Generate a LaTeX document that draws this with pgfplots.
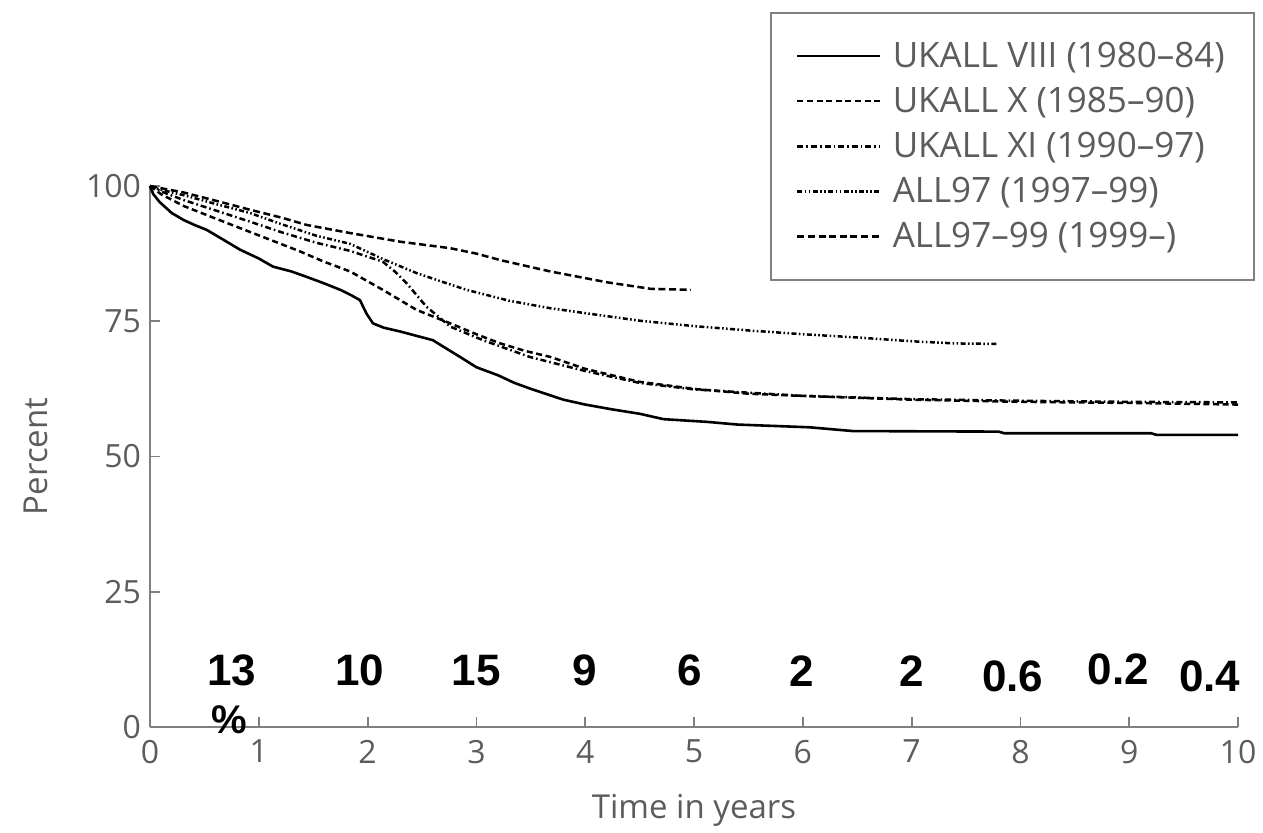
\documentclass[border=0pt]{standalone}
\usepackage{pgfplots}
\pgfplotsset{compat=1.18}
\usepackage{fontspec}
\setmainfont{Open Sans}
\newfontfamily\numfont{Liberation Sans}
\definecolor{txt}{gray}{0.36}
\definecolor{axc}{gray}{0.5}
\begin{document}
\begin{tikzpicture}
\path (-75pt,-53pt) rectangle (556.5pt,363.5pt);
\begin{axis}[
  at={(0pt,0pt)}, anchor=south west,
  scale only axis, width=544pt, height=270.5pt,
  xmin=0, xmax=10, ymin=0, ymax=100,
  axis x line=bottom, axis y line=left,
  axis line style={-, axc, line width=1.1pt},
  xtick={0,1,...,10}, ytick={0,25,50,75,100},
  tick align=inside, major tick length=5pt,
  tick style={axc, line width=0.9pt},
  /pgf/number format/assume math mode=true,
  ticklabel style={font=\fontsize{16}{18}\selectfont, text=txt},
  xticklabel style={yshift=-3pt},
  yticklabel style={xshift=-1pt},
  xlabel={Time in years}, ylabel={Percent},
  xlabel style={font=\fontsize{16.5}{18}\selectfont, text=txt, at={(axis description cs:0.5,0)}, anchor=north, yshift=-30pt},
  ylabel style={font=\fontsize{16.5}{18}\selectfont, text=txt, at={(axis description cs:-0.1048,0.5)}, anchor=center},
  clip=false,
  legend style={at={(axis cs:5.7,132.2)}, anchor=north west, draw=axc, line width=1pt,
    font=\fontsize{17.5}{19}\selectfont, text=txt, inner xsep=12.5pt, inner ysep=12.5pt,
    row sep=4.4pt, legend cell align=left},
  legend image code/.code={\draw[#1] (0pt,0pt) -- (41.5pt,0pt); \path (45pt,0pt);},
]
\addplot[black, line width=1.3pt] coordinates {
(0,100)(0.03,98.5)(0.09,97)(0.2,95)(0.31,93.7)(0.42,92.7)(0.52,91.9)(0.68,90)(0.83,88.2)(1.0,86.6)(1.13,85.1)(1.3,84.2)(1.44,83.2)(1.6,82)(1.75,80.8)(1.85,79.8)(1.93,78.9)(1.99,76.4)(2.05,74.6)(2.15,73.8)(2.3,73.1)(2.45,72.3)(2.6,71.5)(2.72,70)(2.85,68.4)(3.0,66.5)(3.2,65)(3.35,63.6)(3.5,62.5)(3.65,61.5)(3.8,60.5)(4.0,59.6)(4.25,58.7)(4.5,57.9)(4.72,56.9)(5.12,56.4)(5.4,55.9)(6.06,55.4)(6.46,54.7)(7.8,54.6)(7.85,54.3)(9.2,54.3)(9.25,54.0)(10,54.0)};
\addlegendentry{UKALL VIII (1980–84)}
\addplot[black, line width=1.25pt, dash pattern=on 3pt off 1.8pt] coordinates {
(0,100)(0.1,98.5)(0.31,96.3)(0.6,94)(0.92,91.5)(1.15,89.7)(1.38,87.9)(1.6,86)(1.84,84.2)(2.14,80.8)(2.45,77.1)(2.76,74.6)(3.0,72.6)(3.22,70.9)(3.45,69.5)(3.68,68.4)(4.0,66.2)(4.5,63.8)(5.0,62.5)(5.5,61.6)(6.0,61.2)(7.0,60.5)(8.0,60.1)(9.0,59.9)(10,59.6)};
\addlegendentry{UKALL X (1985–90)}
\addplot[black, line width=1.25pt, dash pattern=on 3pt off 1.5pt on 0.8pt off 1.5pt] coordinates {
(0,100)(0.1,99)(0.31,97.4)(0.6,95.5)(0.92,93.4)(1.2,91.5)(1.53,89.5)(1.84,88)(2.14,86)(2.25,84.2)(2.36,82)(2.54,77.7)(2.76,74)(3.06,71.5)(3.49,68.4)(4.0,65.8)(4.5,63.6)(5.0,62.4)(6.0,61.2)(7.0,60.6)(8.0,60.3)(9.0,60.1)(10,60.0)};
\addlegendentry{UKALL XI (1990–97)}
\addplot[black, line width=1.25pt, dash pattern=on 2.5pt off 1.2pt on 0.8pt off 1.2pt on 0.8pt off 1.2pt] coordinates {
(0,100)(0.1,99.3)(0.31,98.3)(0.6,96.7)(0.92,95)(1.2,93)(1.53,90.8)(1.84,89.3)(2.14,86.5)(2.45,83.9)(2.7,82.2)(2.91,80.8)(3.3,78.8)(3.68,77.4)(4.0,76.5)(4.5,75.1)(5.0,74.1)(5.5,73.3)(6.0,72.6)(6.5,72)(7.0,71.3)(7.4,70.9)(7.8,70.8)};
\addlegendentry{ALL97 (1997–99)}
\addplot[black, line width=1.25pt, dash pattern=on 3.5pt off 1.8pt] coordinates {
(0,100)(0.1,99.6)(0.31,98.8)(0.6,97.3)(0.92,95.6)(1.2,94.2)(1.44,92.8)(1.84,91.3)(2.3,89.7)(2.76,88.5)(3.0,87.5)(3.22,86.3)(3.68,84.2)(4.2,82.2)(4.6,81)(4.97,80.8)};
\addlegendentry{ALL97–99 (1999–)}
\begin{scope}[every node/.style={font=\numfont\bfseries\fontsize{22}{24}\selectfont, text=black}]
\node at (axis cs:0.75,10.4) {13};
\node at (axis cs:1.93,10.4) {10};
\node at (axis cs:3.0,10.4) {15};
\node at (axis cs:4.0,10.4) {9};
\node at (axis cs:4.96,10.4) {6};
\node at (axis cs:5.99,10.4) {2};
\node at (axis cs:7.0,10.4) {2};
\node at (axis cs:7.93,9.4) {0.6};
\node at (axis cs:8.9,10.6) {0.2};
\node at (axis cs:9.74,9.4) {0.4};
\node[font=\numfont\bfseries\fontsize{20}{22}\selectfont] at (axis cs:0.73,1.3) {\%};
\end{scope}
\end{axis}
\end{tikzpicture}
\end{document}
